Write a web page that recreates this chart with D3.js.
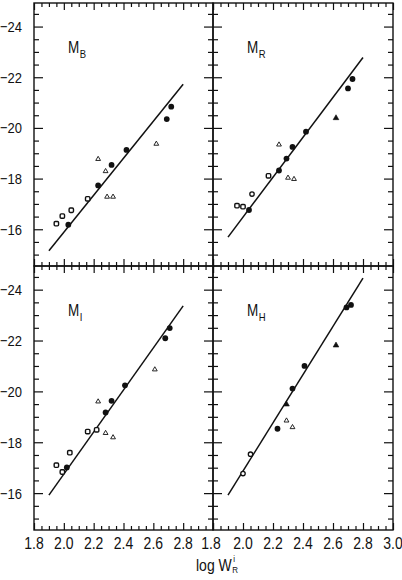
<!DOCTYPE html>
<html>
<head>
<meta charset="utf-8">
<script src="https://cdn.jsdelivr.net/npm/d3@7/dist/d3.min.js"></script>
<style>
	body { margin: 0; background: #fff; }
	svg { display: block; }
	text { font-family: "Liberation Sans", Arial, sans-serif; fill: #111; }
</style>
</head>
<body>
<div id="chart"></div>
<script>
// axis setup (shared by all four panels)
var xDomain = [1.8, 3.0],
	yDomain = [-14.55, -24.93],
	xMajor = [1.8, 2.0, 2.2, 2.4, 2.6, 2.8, 3.0],
	yMajor = [-24, -22, -20, -18, -16],
	xLabelsLeft = ["1.8", "2.0", "2.2", "2.4", "2.6", "2.8"],
	xLabelsRight = ["1.8", "2.0", "2.2", "2.4", "2.6", "2.8", "3.0"],
	yLabels = ["\u221224", "\u221222", "\u221220", "\u221218", "\u221216"];

// fit lines, start and end
var fitLogW = [1.9, 2.8],
	fitB = [-15.15, -21.72],
	fitR = [-15.69, -22.78],
	fitI = [-15.92, -23.36],
	fitH = [-15.92, -24.45];

// symbols: fc filled circle, oc open circle, sq open square, ot open triangle, ft filled triangle
var bLogW = [1.95, 1.99, 2.05, 2.03, 2.16, 2.23, 2.23, 2.28, 2.29, 2.33, 2.32, 2.42, 2.62, 2.69, 2.72],
	bMag  = [-16.22, -16.52, -16.75, -16.18, -17.20, -17.73, -18.77, -18.29, -17.28, -17.28, -18.54, -19.13, -19.37, -20.35, -20.84],
	bSym  = ["sq", "sq", "sq", "fc", "sq", "fc", "ot", "ot", "ot", "ot", "fc", "fc", "ot", "fc", "fc"];

var rLogW = [1.96, 2.0, 2.06, 2.04, 2.17, 2.24, 2.24, 2.29, 2.30, 2.34, 2.33, 2.42, 2.62, 2.70, 2.73],
	rMag  = [-16.93, -16.89, -17.39, -16.76, -18.11, -18.32, -19.34, -18.79, -18.03, -17.98, -19.25, -19.85, -20.39, -21.56, -21.93],
	rSym  = ["sq", "sq", "oc", "fc", "sq", "fc", "ot", "fc", "ot", "ot", "fc", "fc", "ft", "fc", "fc"];

var iLogW = [1.95, 1.99, 2.02, 2.04, 2.16, 2.22, 2.23, 2.28, 2.28, 2.33, 2.32, 2.41, 2.61, 2.68, 2.71],
	iMag  = [-17.10, -16.83, -17.01, -17.59, -18.42, -18.49, -19.60, -19.17, -18.36, -18.19, -19.63, -20.24, -20.86, -22.09, -22.49],
	iSym  = ["sq", "sq", "fc", "sq", "sq", "sq", "ot", "fc", "ot", "ot", "fc", "fc", "ot", "fc", "fc"];

var hLogW = [2.0, 2.05, 2.23, 2.29, 2.29, 2.33, 2.33, 2.41, 2.62, 2.69, 2.72],
	hMag  = [-16.77, -17.53, -18.53, -19.49, -18.85, -18.59, -20.11, -21.00, -21.81, -23.30, -23.40],
	hSym  = ["oc", "oc", "fc", "ft", "ot", "ot", "fc", "fc", "ft", "fc", "fc"];

var width = 402,
	height = 580,
	cols = [34, 213, 393],
	rows = [3, 266, 530],
	stretch = 1.18; // the scan is a bit taller than wide

var svg = d3.select("#chart").append("svg")
	.attr("width", width)
	.attr("height", height);

var panels = [
	{ band: "B", col: 0, row: 0, logW: bLogW, mag: bMag, sym: bSym, fit: fitB },
	{ band: "R", col: 1, row: 0, logW: rLogW, mag: rMag, sym: rSym, fit: fitR },
	{ band: "I", col: 0, row: 1, logW: iLogW, mag: iMag, sym: iSym, fit: fitI },
	{ band: "H", col: 1, row: 1, logW: hLogW, mag: hMag, sym: hSym, fit: fitH }
];

function stretchedText(g, x, y, size, anchor, str) {
	return g.append("text")
		.attr("transform", "translate(" + x + "," + y + ") scale(1," + stretch + ")")
		.attr("font-size", size)
		.attr("text-anchor", anchor)
		.text(str);
}

function drawSymbol(g, type, x, y) {
	if (type == "fc") {
		g.append("circle").attr("cx", x).attr("cy", y).attr("r", 2.9)
			.attr("fill", "#111");
	} else if (type == "oc") {
		g.append("circle").attr("cx", x).attr("cy", y).attr("r", 2.2)
			.attr("fill", "#fff").attr("stroke", "#111").attr("stroke-width", 1.3);
	} else if (type == "sq") {
		g.append("rect").attr("x", x - 2.2).attr("y", y - 2.2)
			.attr("width", 4.4).attr("height", 4.4).attr("rx", 1.1)
			.attr("fill", "#fff").attr("stroke", "#111").attr("stroke-width", 1.4);
	} else {
		var filled = type == "ft";
		g.append("path")
			.attr("d", d3.symbol().type(d3.symbolTriangle).size(filled ? 14 : 10)())
			.attr("transform", "translate(" + x + "," + y + ")")
			.attr("fill", filled ? "#111" : "#fff")
			.attr("stroke", "#111")
			.attr("stroke-width", filled ? 0.6 : 0.9)
			.attr("stroke-linejoin", "round");
	}
}

panels.forEach(function(p) {
	var x0 = cols[p.col], x1 = cols[p.col + 1],
		y0 = rows[p.row], y1 = rows[p.row + 1];

	var xScale = d3.scaleLinear().domain(xDomain).range([x0, x1]),
		yScale = d3.scaleLinear().domain(yDomain).range([y1, y0]);

	var g = svg.append("g").attr("class", "panel panel-" + p.band);

	// inward ticks on all four sides, majors longer
	var xMinor = xScale.ticks(24).filter(function(v) { return xMajor.indexOf(+v.toFixed(2)) == -1; }),
		yMinor = yScale.ticks(20).filter(function(v) { return yMajor.indexOf(v) == -1; });

	var sides = [
		{ axis: d3.axisBottom, at: "translate(0," + y1 + ")", scale: xScale, major: xMajor, minor: xMinor, big: 7, small: 4 },
		{ axis: d3.axisTop, at: "translate(0," + y0 + ")", scale: xScale, major: xMajor, minor: xMinor, big: 7, small: 4 },
		{ axis: d3.axisLeft, at: "translate(" + x0 + ",0)", scale: yScale, major: yMajor, minor: yMinor, big: 9, small: 5 },
		{ axis: d3.axisRight, at: "translate(" + x1 + ",0)", scale: yScale, major: yMajor, minor: yMinor, big: 9, small: 5 }
	];
	sides.forEach(function(s) {
		[[s.major, s.big], [s.minor, s.small]].forEach(function(set) {
			var a = g.append("g")
				.attr("transform", s.at)
				.call(s.axis(s.scale).tickValues(set[0]).tickSizeInner(-set[1]).tickSizeOuter(0).tickFormat(""));
			a.select(".domain").remove();
			a.selectAll("line").attr("stroke", "#111").attr("stroke-width", 1.2);
		});
	});

	// frame
	g.append("rect")
		.attr("x", x0).attr("y", y0)
		.attr("width", x1 - x0).attr("height", y1 - y0)
		.attr("fill", "none")
		.attr("stroke", "#111")
		.attr("stroke-width", 1.4);

	// tick labels, only on the outer edges
	if (p.col == 0) {
		yMajor.forEach(function(v, i) {
			stretchedText(g, x0 - 12, yScale(v) + 5.5, 13, "end", yLabels[i]);
		});
	}
	if (p.row == 1) {
		var labels = p.col == 0 ? xLabelsLeft : xLabelsRight;
		labels.forEach(function(t, i) {
			stretchedText(g, xScale(xMajor[i]) - (p.col == 1 && i == 0 ? 2 : 0), y1 + 19, 14, "middle", t);
		});
	}

	// panel name M with band subscript
	var name = stretchedText(g, x0 + 34, y0 + 50, 13.5, "start", "M");
	var mw = name.node().getComputedTextLength();
	stretchedText(g, x0 + 34 + mw + 0.5, y0 + 55, 9.5, "start", p.band);

	// fit line
	var line = d3.line()
		.x(function(d) { return xScale(d[0]); })
		.y(function(d) { return yScale(d[1]); });
	g.append("path")
		.datum(d3.zip(fitLogW, p.fit))
		.attr("d", line)
		.attr("fill", "none")
		.attr("stroke", "#111")
		.attr("stroke-width", 1.5);

	// galaxies
	p.logW.forEach(function(w, i) {
		drawSymbol(g, p.sym[i], xScale(w), yScale(p.mag[i]));
	});
});

// x axis title: log W with i over R
var title = stretchedText(svg, 196, 571, 14, "start", "log W");
var tw = title.node().getComputedTextLength();
stretchedText(svg, 196 + tw + 1.5, 562, 8, "start", "i");
stretchedText(svg, 196 + tw + 0.5, 573, 8, "start", "R");
</script>
</body>
</html>
